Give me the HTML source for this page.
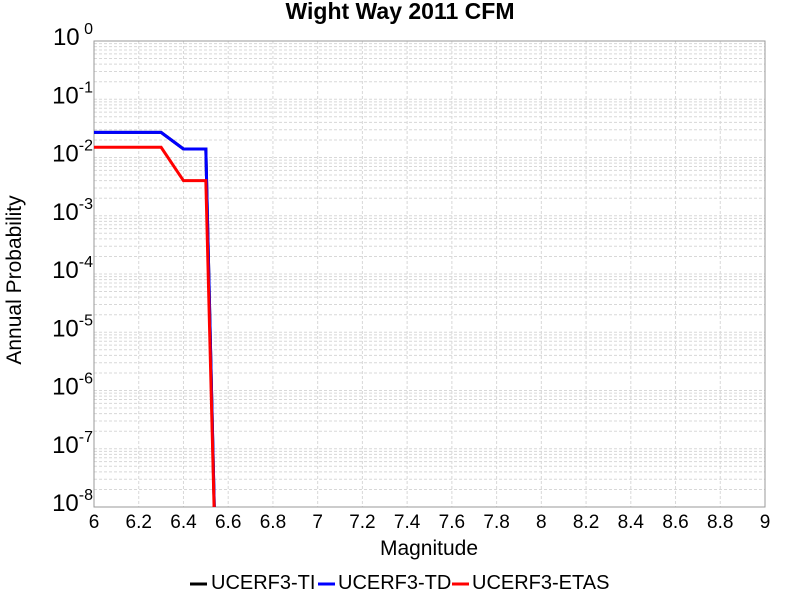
<!DOCTYPE html>
<html><head><meta charset="utf-8"><style>
body{margin:0;background:#fff;font-family:"Liberation Sans",sans-serif}
svg text{font-family:"Liberation Sans",sans-serif}
</style></head><body>
<svg id="c" width="800" height="600" xmlns="http://www.w3.org/2000/svg"></svg>
<script>
const mags = [6.0, 6.3, 6.4, 6.5, 6.55];
const tiValues = [0.027, 0.027, 0.014, 0.014, 1e-10];
const tdValues = [0.027, 0.027, 0.014, 0.014, 1e-10];
const etasValues = [0.015, 0.015, 0.004, 0.004, 1e-10];
const xTicks = [6,6.2,6.4,6.6,6.8,7,7.2,7.4,7.6,7.8,8,8.2,8.4,8.6,8.8,9];
const yExps = [0,-1,-2,-3,-4,-5,-6,-7,-8];

const L=94,R=765,T=41,B=507;
const xs=v=>L+(v-6)/3*(R-L);
const ys=v=>T+(-Math.log10(v))/8*(B-T);
const svg=document.getElementById('c');
const NS='http://www.w3.org/2000/svg';
function mk(t,a,p){const e=document.createElementNS(NS,t);for(const k in a)e.setAttribute(k,a[k]);(p||svg).appendChild(e);return e;}

const clip=mk('clipPath',{id:'pc'});mk('rect',{x:L,y:T,width:R-L,height:B-T},clip);
const grid=mk('g',{});


for(let e=0;e>=-8;e--){for(let m=1;m<10;m++){const v=m*Math.pow(10,e-1);if(v<1e-8)continue;const y=ys(v);
 mk('line',{x1:L,x2:R,y1:y,y2:y,stroke:'#d8d8d8','stroke-width':1,'stroke-dasharray':'3,2'},grid);}}
xTicks.forEach(t=>{const x=xs(t);mk('line',{x1:x,x2:x,y1:T,y2:B,stroke:'#d8d8d8','stroke-width':1,'stroke-dasharray':'3,2'},grid);});
const frame=mk('rect',{x:L,y:T,width:R-L,height:B-T,fill:'none',stroke:'#999','stroke-width':1});



function series(vals,color,name){const p=mk('polyline',{points:mags.map((m,i)=>xs(m)+','+ys(vals[i])).join(' '),fill:'none',stroke:color,'stroke-width':3,'clip-path':'url(#pc)'});
 
 }
series(tiValues,'#000','series-ucerf3-ti');
series(tdValues,'#0000ff','series-ucerf3-td');
series(etasValues,'#ff0000','series-ucerf3-etas');

xTicks.forEach(t=>{const tx=mk('text',{x:xs(t),y:528,'font-size':19,'text-anchor':'middle'});tx.textContent=String(t);
 
 });
yExps.forEach(e=>{const y=ys(Math.pow(10,e));const tx=mk('text',{x:93,y:y+4,'font-size':24,'text-anchor':'end'});
 
 
 const a=mk('tspan',{},tx);a.textContent='10';const s=mk('tspan',{dy:-11,'font-size':16},tx);s.textContent=(e===0?' 0':String(e));});

const title=mk('text',{x:400,y:19,'font-size':23,'font-weight':'bold','text-anchor':'middle'});title.textContent='Wight Way 2011 CFM';


const xt=mk('text',{x:429,y:555,'font-size':21,'text-anchor':'middle'});xt.textContent='Magnitude';


const yt=mk('text',{x:0,y:0,'font-size':21,'text-anchor':'middle',transform:'translate(21,280) rotate(-90)'});yt.textContent='Annual Probability';



const legend=[['UCERF3-TI','#000',190,211],['UCERF3-TD','#0000ff',318,338],['UCERF3-ETAS','#ff0000',452,472]];
legend.forEach(([n,c,sx,tx])=>{const g=mk('g',{});
 
 
 mk('line',{x1:sx,x2:sx+17,y1:584,y2:584,stroke:c,'stroke-width':3},g);
 const t=mk('text',{x:tx,y:589,'font-size':20},g);t.textContent=n;});
</script>
</body></html>
